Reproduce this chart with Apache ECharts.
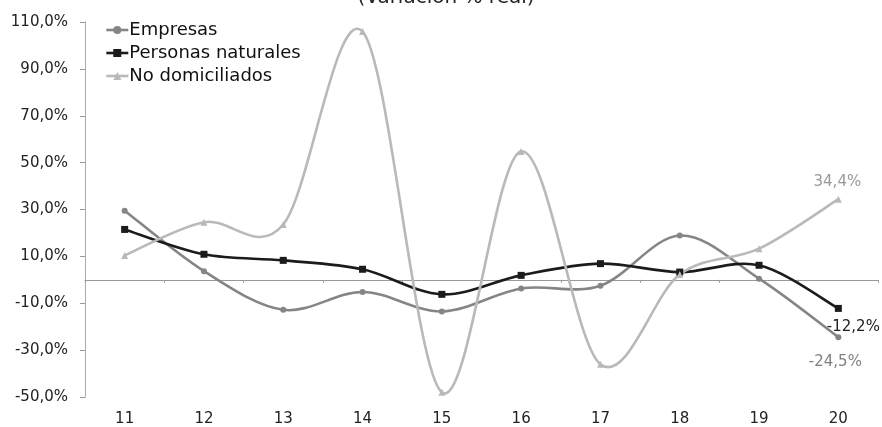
<!DOCTYPE html>
<html>
<head>
<meta charset="utf-8">
<script src="https://cdn.jsdelivr.net/npm/echarts@6/dist/echarts.min.js"></script>
<style>
  html, body { margin: 0; padding: 0; background: #ffffff; }
  #chart { width: 882px; height: 427px; }
</style>
</head>
<body>
<div id="chart"></div>
<script>
// Años (categorías del eje horizontal)
const years = ['11', '12', '13', '14', '15', '16', '17', '18', '19', '20'];

// Variación % real por tipo de contribuyente
const empresas = [29.5, 3.7, -12.8, -5.2, -13.5, -3.7, -2.5, 18.9, 0.5, -24.5];
const personasNaturales = [21.5, 10.9, 8.3, 4.5, -6.2, 1.9, 6.9, 3.3, 6.2, -12.2];
const noDomiciliados = [10.4, 24.6, 23.6, 105.9, -48.0, 54.8, -36.0, 2.3, 13.3, 34.4];

// Marcas del eje vertical
const yTicks = [-50, -30, -10, 10, 30, 50, 70, 90, 110];

const fmt = v => v.toFixed(1).replace('.', ',') + '%';
const lastOnly = (fn) => (p) => p.dataIndex === years.length - 1 ? fn(p.value) : '';

const chart = echarts.init(document.getElementById('chart'));

// Puntos con marcador y etiqueta final; la curva se dibuja aparte
function markerSeries(name, data, color, symbol, size, label) {
  return {
    name, type: 'line', data, smooth: false,
    symbol, symbolSize: size,
    lineStyle: { color, width: 2.6, opacity: 0 },
    itemStyle: { color },
    label,
    z: 4
  };
}

// Curva suavizada (Catmull-Rom → Bézier) calculada en coordenadas de pantalla
function curveSeries(name, data, color) {
  const n = data.length;
  return {
    name, type: 'custom',
    data: data.map((v, i) => [i, v]),
    encode: { x: 0, y: 1 },
    z: 3, silent: true,
    renderItem(params, api) {
      const i = params.dataIndex;
      if (i >= n - 1) return null;
      const pt = k => {
        const j = Math.max(0, Math.min(n - 1, k));
        return api.coord([j, data[j]]);
      };
      const p0 = pt(i - 1), p1 = pt(i), p2 = pt(i + 1), p3 = pt(i + 2);
      return {
        type: 'bezierCurve',
        shape: {
          x1: p1[0], y1: p1[1],
          cpx1: p1[0] + (p2[0] - p0[0]) / 6, cpy1: p1[1] + (p2[1] - p0[1]) / 6,
          cpx2: p2[0] - (p3[0] - p1[0]) / 6, cpy2: p2[1] - (p3[1] - p1[1]) / 6,
          x2: p2[0], y2: p2[1]
        },
        style: { stroke: color, lineWidth: 2.6, fill: null, lineCap: 'round' }
      };
    }
  };
}

const colors = { emp: '#858585', per: '#1b1b1b', nod: '#b9b9b9' };

chart.setOption({
  animation: false,
  backgroundColor: '#ffffff',
  textStyle: { fontFamily: 'DejaVu Sans, sans-serif' },
  title: {
    text: '(Variación % real)',
    left: 446, top: -12, padding: 0, textAlign: 'center',
    textStyle: { fontSize: 20, fontWeight: 'normal', color: '#222', fontFamily: 'DejaVu Sans' }
  },
  legend: {
    left: 100, top: 16, orient: 'vertical', itemGap: 5,
    itemWidth: 22, itemHeight: 10,
    textStyle: { fontSize: 18, color: '#111', padding: [0, 0, 0, -4] },
    data: [
      { name: 'Empresas', lineStyle: { color: colors.emp, width: 2.6, opacity: 1 } },
      { name: 'Personas naturales', lineStyle: { color: colors.per, width: 2.6, opacity: 1 } },
      { name: 'No domiciliados', lineStyle: { color: colors.nod, width: 2.6, opacity: 1 } }
    ]
  },
  grid: { left: 85, right: 4, top: 22, bottom: 30 },
  xAxis: [
    {
      type: 'category', data: years, position: 'bottom',
      axisLine: { show: false, onZero: false },
      axisTick: { show: false },
      axisLabel: { margin: 15, fontSize: 15, color: '#222' }
    },
    {
      type: 'category', data: years, position: 'bottom',
      axisLine: { show: true, onZero: true, lineStyle: { color: '#999', width: 1 } },
      axisTick: { show: true, length: 3, lineStyle: { color: '#999' } },
      axisLabel: { show: false }
    }
  ],
  yAxis: {
    type: 'value', min: yTicks[0], max: yTicks[yTicks.length - 1], interval: 20,
    axisLine: { show: true, lineStyle: { color: '#aaa', width: 1 } },
    axisTick: { show: true, length: 5, lineStyle: { color: '#999' } },
    splitLine: { show: false },
    axisLabel: { fontSize: 15, color: '#222', margin: 17, formatter: v => fmt(v) }
  },
  series: [
    markerSeries('Empresas', empresas, colors.emp, 'circle', 6, {
      show: true, position: 'bottom', distance: 14, offset: [-3, 0], fontSize: 15, color: '#808080',
      formatter: lastOnly(fmt)
    }),
    markerSeries('Personas naturales', personasNaturales, colors.per, 'rect', 7, {
      show: true, position: 'bottom', distance: 8, offset: [15, 0], fontSize: 15, color: '#222',
      formatter: lastOnly(fmt)
    }),
    markerSeries('No domiciliados', noDomiciliados, colors.nod, 'triangle', 7, {
      show: true, position: 'top', distance: 6, offset: [-1, 0], fontSize: 15, color: '#999',
      formatter: lastOnly(fmt)
    }),
    curveSeries('Empresas', empresas, colors.emp),
    curveSeries('Personas naturales', personasNaturales, colors.per),
    curveSeries('No domiciliados', noDomiciliados, colors.nod)
  ]
});
</script>
</body>
</html>
